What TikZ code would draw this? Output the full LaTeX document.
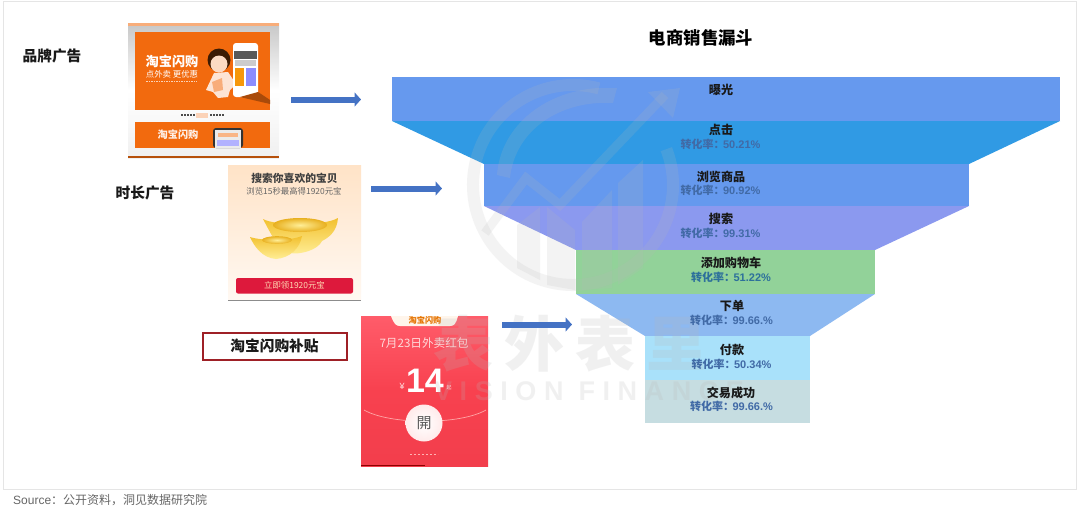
\documentclass[tikz,border=0pt]{standalone}
\usepackage{fontspec}
\setmainfont{Noto Sans CJK SC}
\newfontfamily\lat{Liberation Sans}
\newfontfamily\wide[LetterSpace=28]{Liberation Sans}
\usetikzlibrary{arrows.meta,shadings}
\definecolor{fExpo}{HTML}{6699EE}
\definecolor{fClick}{HTML}{309AE4}
\definecolor{fBrowse}{HTML}{6599EE}
\definecolor{fSearch}{HTML}{8B99EF}
\definecolor{fCart}{HTML}{92D299}
\definecolor{fOrder}{HTML}{8DB9F1}
\definecolor{fPay}{HTML}{A9E1FA}
\definecolor{fDone}{HTML}{C6DDE1}
\definecolor{rate}{HTML}{416AA6}
\definecolor{arrowblue}{HTML}{4472C4}
\definecolor{tb}{HTML}{F26A0E}
\definecolor{boxred}{HTML}{9E2026}
\definecolor{wm}{HTML}{B8B8B8}
\definecolor{pktTop}{HTML}{FF5C6A}
\definecolor{pktMid}{HTML}{F8414F}
\definecolor{pktBot}{HTML}{F23E4C}
\definecolor{goldA}{HTML}{F2C02E}
\definecolor{goldB}{HTML}{FFEE96}
\definecolor{goldC}{HTML}{E8B020}
\newcommand{\ratetxt}[1]{\bfseries 转化率：\kern-1.5pt{\lat\bfseries #1}}
\tikzset{
  seg/.style={draw=none},
  title/.style={font=\bfseries\fontsize{17.4}{17}\selectfont,text=black,inner sep=0pt},
  side/.style={font=\bfseries\fontsize{14.7}{15}\selectfont,text=black!90,inner sep=0pt},
  stage/.style={font=\bfseries\fontsize{12.1}{12}\selectfont,text=black!90,inner sep=0pt},
  ratelabel/.style={font=\fontsize{11}{12}\selectfont,text=rate,inner sep=0pt},
  flow/.style={draw=arrowblue,line width=6pt,-{Triangle[length=6.5pt,width=14pt]}},
  wmfill/.style={fill=wm,fill opacity=.17,draw=none},
  wmline/.style={draw=wm,draw opacity=.17,line cap=butt,line join=miter},
  wmtext/.style={text=wm,text opacity=.2,inner sep=0pt},
  small/.style={inner sep=0pt}
}
\begin{document}
\begin{tikzpicture}[x=1pt,y=-1pt]
\useasboundingbox (0,0) rectangle (1080,514);
\fill[white] (0,0) rectangle (1080,514);
\draw[draw=black!10,line width=1pt] (3,1) rectangle (1076,489);

% funnel
\path[fill=fExpo,seg] (392,77) rectangle (1060,121);
\path[fill=fClick,seg] (392,121) -- (1060,121) -- (969,164) -- (484,164) -- cycle;
\path[fill=fBrowse,seg] (484,164) rectangle (969,206);
\path[fill=fSearch,seg] (484,206) -- (969,206) -- (875,250) -- (576,250) -- cycle;
\path[fill=fCart,seg] (576,250) rectangle (875,294);
\path[fill=fOrder,seg] (576,294) -- (875,294) -- (810,336) -- (645,336) -- cycle;
\path[fill=fPay,seg] (645,336) rectangle (810,380);
\path[fill=fDone,seg] (645,380) rectangle (810,423);

% image 1: brand ad
\shade[top color=black!22,bottom color=black!6,middle color=white] (128,23) rectangle (279,158);
\fill[tb!55!white] (128,23) rectangle (279,26);
\fill[tb!75!black] (128,156) rectangle (279,158);
\fill[tb] (135,32) rectangle (270,110);
\fill[tb] (135,122) rectangle (270,148);
\node[small,text=white,font=\bfseries\itshape\fontsize{13.2}{13}\selectfont] (ad1a) at (172,61.5) {淘宝闪购};
\node[small,text=white,font=\fontsize{8.4}{9}\selectfont] (ad1b) at (172,74) {点外卖 更优惠};
\draw[white!70!tb,line width=1.4pt,dash pattern=on 1.5pt off 1pt] (146,81.5) -- (197,81.5);
% person
\fill[black!75!tb] (219,60) circle (11.5);
\fill[tb!25!white] (219,64) circle (8.5);
\fill[tb!18!white] (206,90) -- (214,73) -- (228,72) -- (236,84) -- (230,90) -- (228,97) -- (218,98) -- (213,92) -- cycle;
\fill[tb!55!white] (212,82) -- (222,78) -- (223,90) -- (214,92) -- cycle;
% phone
\fill[white,rounded corners=3pt] (233,43) rectangle (258,97);
\fill[black!65] (234,51) rectangle (257,59);
\fill[tb!70!yellow] (235,68) rectangle (244,86);
\fill[blue!45!white] (246,68) rectangle (256,86);
\fill[black!20] (235,60) rectangle (256,66);
\fill[tb!70!black] (258,92) -- (270,100) -- (270,104) -- (240,97) -- cycle;
% dots
\draw[black!70,line width=1.4pt,dash pattern=on 1.5pt off 1.6pt] (181,115) -- (196,115);
\draw[black!70,line width=1.4pt,dash pattern=on 1.5pt off 1.6pt] (210,115) -- (224,115);
\fill[tb!30!white] (196,112.5) rectangle (208,117.5);
\node[small,text=white!90!tb,font=\bfseries\itshape\fontsize{10.2}{10}\selectfont] (ad1c) at (178,134.5) {淘宝闪购};
\fill[black!80,rounded corners=3pt] (213,128) rectangle (243,148);
\fill[black!8] (215,130) rectangle (241,148);
\fill[tb!50!white] (218,133) rectangle (238,137);
\fill[blue!30!white] (217,140) rectangle (239,146);

% image 2: search task ad
\shade[top color=orange!22!white,bottom color=orange!5!white] (228,165) rectangle (361,300);
\draw[black!45,line width=1pt] (228,300.5) -- (361,300.5);
\node[small,text=black!75,font=\bfseries\fontsize{10.8}{11}\selectfont] (ad2a) at (294.5,178) {搜索你喜欢的宝贝};
\node[small,text=black!60,font=\fontsize{8.4}{9}\selectfont] (ad2b) at (294,191) {浏览15秒最高得1920元宝};
% ingots
\shade[top color=goldA,bottom color=goldB] (263,219) .. controls (275,226) and (325,226) .. (338,218) .. controls (337,232) and (328,238) .. (322,241) .. controls (318,250) and (300,255) .. (290,253) .. controls (278,250) and (270,232) .. (263,219) -- cycle;
\shade[inner color=goldB,outer color=goldC] (300,225) ellipse (27 and 7);
\shade[top color=goldA,bottom color=goldB] (250,237) .. controls (262,241) and (290,241) .. (302,236) .. controls (300,248) and (290,258) .. (276,259) .. controls (262,258) and (254,246) .. (250,237) -- cycle;
\shade[inner color=goldB,outer color=goldC] (277,240) ellipse (15 and 3.8);
\path[fill=red!85!blue!90!white,rounded corners=2pt] (236,278) rectangle (353,293.5);
\node[small,text=orange!30!white,font=\fontsize{8.4}{9}\selectfont] (ad2c) at (294.5,285.5) {立即领1920元宝};

% image 3: red packet
\shade[top color=pktTop,bottom color=pktBot,middle color=pktMid] (361,316) rectangle (488,466);
\fill[red!55!black] (361,465.3) rectangle (425,466);
\path[fill=orange!8!white] (391,316) .. controls (394,324) and (396,326) .. (400,326) -- (450,326) .. controls (454,326) and (456,324) .. (458,316) -- cycle;
\node[small,text=orange!90!black,font=\bfseries\fontsize{8.2}{8}\selectfont] (ad3a) at (425,320.5) {淘宝闪购};
\node[small,text=red!15!white,font=\fontsize{11.6}{12}\selectfont] (ad3b) at (424,343) {7月23日外卖红包};
\node[small,text=white,font=\lat\bfseries\fontsize{34}{34}\selectfont] (ad3c) at (425,381) {14};
\node[small,text=red!12!white,font=\lat\fontsize{9}{9}\selectfont] (ad3d) at (402,386) {¥};
\node[small,text=red!12!white,font=\fontsize{5}{5}\selectfont] (ad3e) at (449,388) {起};
\draw[red!35!white,line width=.7pt] (364,410) .. controls (390,425) and (460,425) .. (486,410);
\shade[inner color=white,outer color=red!8!white] (424,423) circle (18.5);
\node[small,text=black!65,font=\fontsize{15}{15}\selectfont] (ad3f) at (424,423) {開};
\draw[red!30!white,line width=.8pt,dash pattern=on 2pt off 2pt] (410,454) -- (438,454);

% watermark
\draw[wmline,line width=12pt] (573,185) ++(-75:100) arc[start angle=-75,end angle=-381,radius=100];
\path[wmfill] (497,175) .. controls (500,130) and (540,92) .. (598,88) -- (617,88) -- (613,103) .. controls (560,100) and (515,130) .. (510,178) -- cycle;
\draw[wmline,line width=9pt] (485,233) -- (526,178) -- (560,205) -- (665,95);
\path[wmfill] (680,88) -- (648,92) -- (673,118) -- cycle;
\path[wmfill] (547,207) -- (575,230) -- (575,290) -- (547,285) -- cycle;
\path[wmfill] (582,222) -- (612,190) -- (612,288) -- (582,290) -- cycle;
\path[wmfill] (618,183) -- (643,160) -- (643,268) -- (618,285) -- cycle;
\path[wmfill] (517,225) -- (540,207) -- (540,280) -- (517,268) -- cycle;
\node[wmtext,font=\bfseries\fontsize{60}{60}\selectfont] (wmcn) at (570,344) {表\hspace{11pt}外\hspace{11pt}表\hspace{11pt}里};
\node[wmtext,font=\wide\bfseries\fontsize{27}{27}\selectfont,anchor=west] (wmen) at (434,391.5) {VISION FINANCE};

% arrows
\coordinate (a1s) at (291,99.5);
\coordinate (a1e) at (361,99.5);
\coordinate (a2s) at (371,188.5);
\coordinate (a2e) at (442,188.5);
\coordinate (a3s) at (502,324.5);
\coordinate (a3e) at (572,324.5);
\draw[flow] (a1s) -- (a1e);
\draw[flow] (a2s) -- (a2e);
\draw[flow] (a3s) -- (a3e);

% texts
\node[title] (funneltitle) at (701,38) {电商销售漏斗};
\node[side] (brand) at (52,56) {品牌广告};
\node[side] (duration) at (145,193) {时长广告};
\node[side,draw=boxred,line width=2pt,fill=white,minimum width=144pt,minimum height=27pt] (subsidy) at (274.5,346) {淘宝闪购补贴};

\node[stage] (s1) at (721,89.5) {曝光};
\node[stage] (s2) at (721,130) {点击};
\node[ratelabel] (r2) at (720.5,144) {\ratetxt{50.21\%}};
\node[stage] (s3) at (721,177) {浏览商品};
\node[ratelabel] (r3) at (720.5,190.5) {\ratetxt{90.92\%}};
\node[stage] (s4) at (721,219) {搜索};
\node[ratelabel] (r4) at (720.5,233.5) {\ratetxt{99.31\%}};
\node[stage] (s5) at (731,263) {添加购物车};
\node[ratelabel,text=rate!70!teal] (r5) at (731,277) {\ratetxt{51.22\%}};
\node[stage] (s6) at (732,305.5) {下单};
\node[ratelabel] (r6) at (731.5,320) {\ratetxt{99.66.\%}};
\node[stage] (s7) at (732,350) {付款};
\node[ratelabel] (r7) at (731.5,364) {\ratetxt{50.34\%}};
\node[stage] (s8) at (731,392.5) {交易成功};
\node[ratelabel] (r8) at (731.5,406) {\ratetxt{99.66.\%}};

\node[small,anchor=west,text=black!60,font=\fontsize{12}{12}\selectfont] (source) at (13,500) {{\lat Source}：公开资料，洞见数据研究院};
\end{tikzpicture}
\end{document}
